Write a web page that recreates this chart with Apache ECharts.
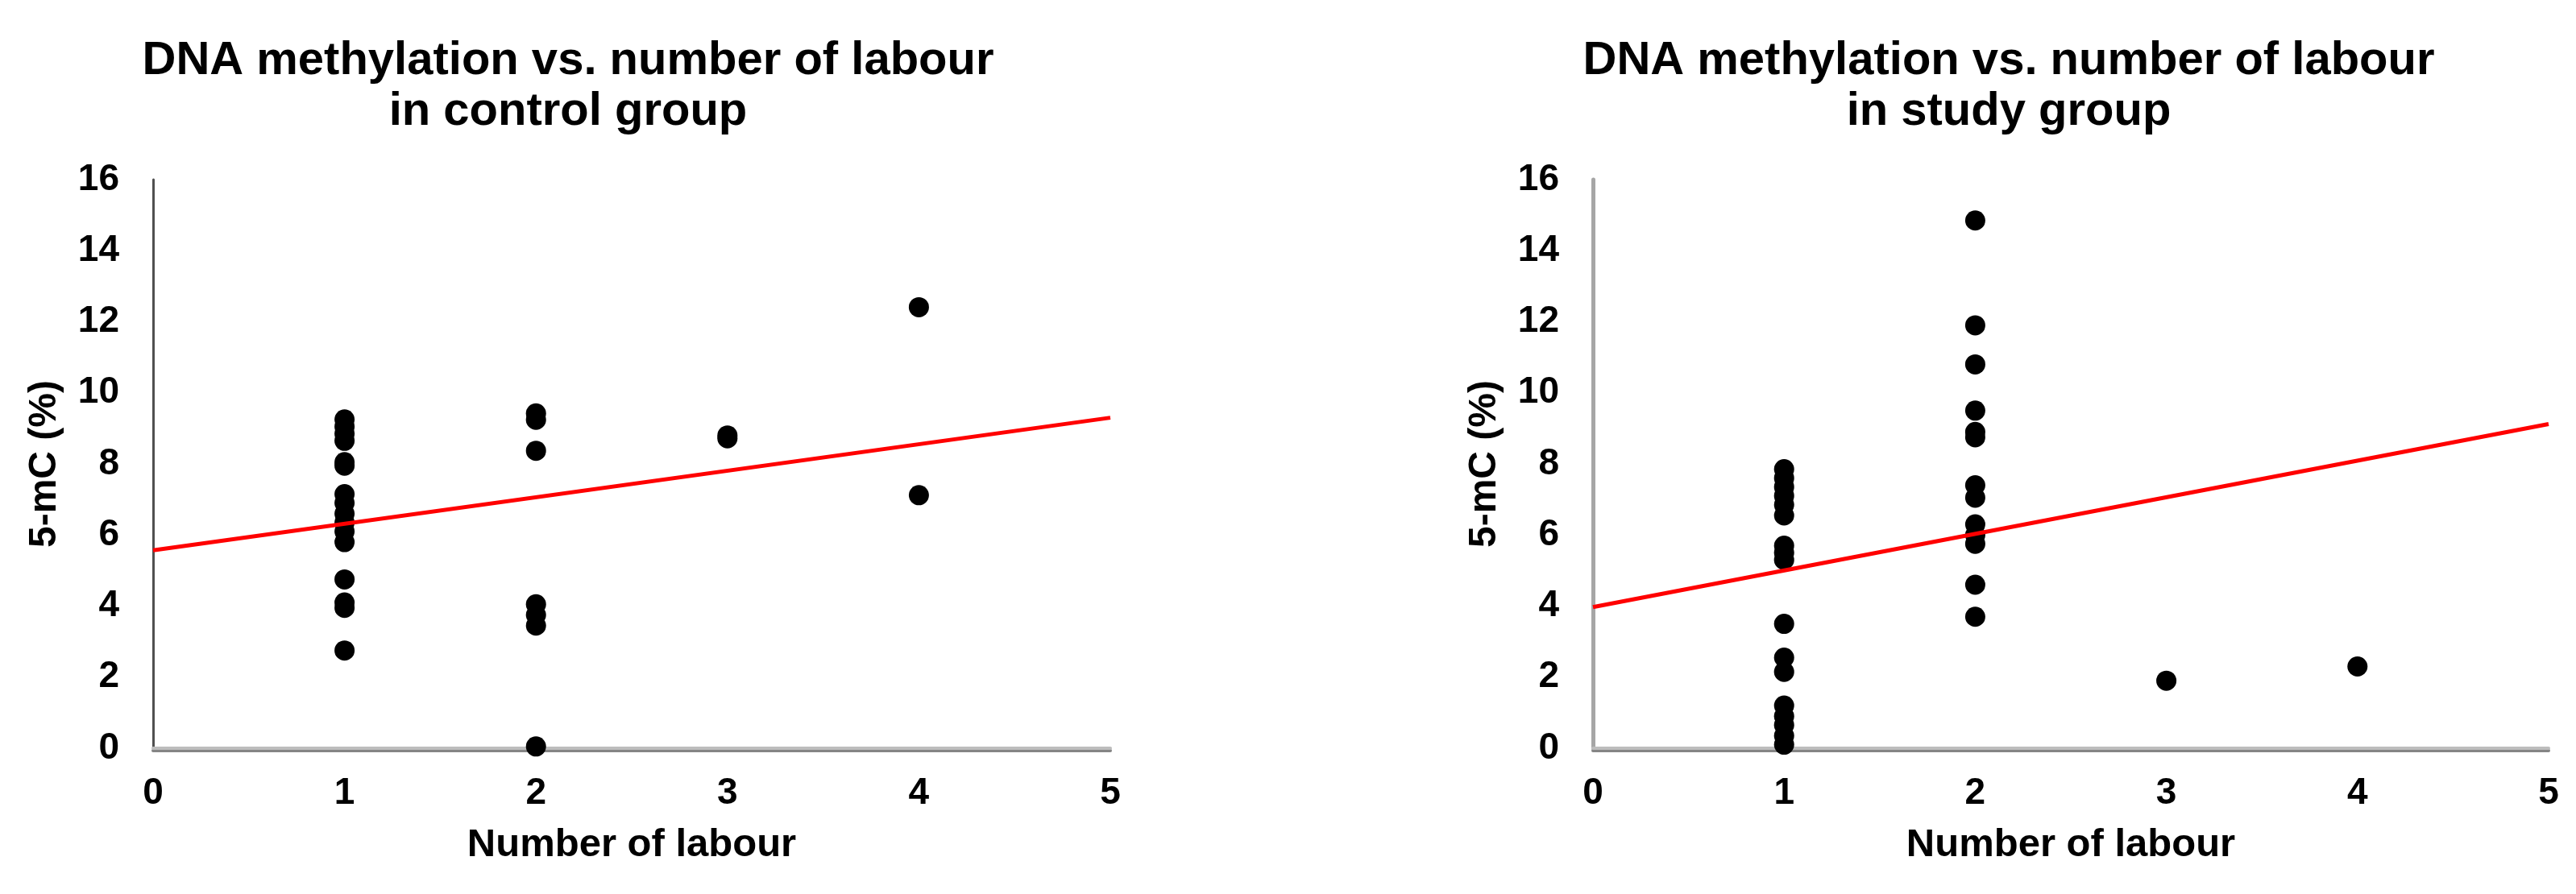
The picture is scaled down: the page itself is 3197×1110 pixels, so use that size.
<!DOCTYPE html>
<html>
<head>
<meta charset="utf-8">
<script src="https://cdn.jsdelivr.net/npm/echarts@6/dist/echarts.min.js"></script>
<style>
html,body{margin:0;padding:0;background:#fff;}
#chart{width:3197px;height:1110px;}
</style>
</head>
<body>
<div id="chart"></div>
<script>
// ---- Data ----
const titles = ['DNA methylation vs. number of labour\nin control group', 'DNA methylation vs. number of labour\nin study group'];
const xAxisName = 'Number of labour';
const yAxisName = '5-mC (%)';
const xTickLabels = [0, 1, 2, 3, 4, 5];
const yTickLabels = [0, 2, 4, 6, 8, 10, 12, 14, 16];

// control group
const controlLabour = [1,1,1,1,1,1,1,1,1,1,1,1,1,1,1,1, 2,2,2,2,2,2,2, 3,3, 4,4];
const controlMethylation = [9.25,9.05,8.85,8.65,8.05,7.95,7.15,6.9,6.6,6.35,6.1,5.8,4.75,4.1,3.95,2.75,
                            9.42,9.24,8.37,4.05,3.75,3.45,0.05,
                            8.8,8.72,
                            12.41,7.12];
const controlTrendX = [0, 5];
const controlTrendY = [5.57, 9.3];

// study group
const studyLabour = [1,1,1,1,1,1,1,1,1,1,1,1,1,1,1,1,1, 2,2,2,2,2,2,2,2,2,2,2,2,2, 3, 4];
const studyMethylation = [7.85,7.6,7.35,7.1,6.85,6.55,5.7,5.5,5.3,3.5,2.55,2.15,1.2,0.9,0.65,0.35,0.1,
                          14.85,11.9,10.8,9.5,8.9,8.75,7.4,7.05,6.3,6.0,5.75,4.6,3.7,
                          1.9,
                          2.3];
const studyTrendX = [0, 5];
const studyTrendY = [3.97, 9.12];

// ---- Build ----
const FONT = "'Liberation Sans', Arial, sans-serif";
function pairs(xs, ys) { return xs.map((x, i) => [x, ys[i]]); }

const grids = [
  {left: 190, top: 223, width: 1188, height: 706},
  {left: 1977, top: 223, width: 1186, height: 706}
];
const titleCenters = [705, 2493];
const yAxisColors = ['#505050', '#a6a6a6'];
const yAxisWidths = [3, 5];

function xAxisFor(i) {
  return {
    gridIndex: i, type: 'value',
    min: xTickLabels[0], max: xTickLabels[xTickLabels.length - 1], interval: xTickLabels[1] - xTickLabels[0],
    name: xAxisName, nameLocation: 'middle', nameGap: 96,
    nameTextStyle: {fontFamily: FONT, fontWeight: 'bold', fontSize: 49, color: '#000'},
    axisLine: {show: true, onZero: false, lineStyle: {color: '#bdbdbd', width: 4, shadowColor: '#858585', shadowOffsetY: 3, shadowBlur: 0}},
    axisTick: {show: false},
    splitLine: {show: false},
    axisLabel: {margin: 33, fontFamily: FONT, fontWeight: 'bold', fontSize: 46, color: '#000'}
  };
}
function yAxisFor(i) {
  return {
    gridIndex: i, type: 'value',
    min: yTickLabels[0], max: yTickLabels[yTickLabels.length - 1], interval: yTickLabels[1] - yTickLabels[0],
    name: yAxisName, nameLocation: 'middle', nameGap: 110,
    nameTextStyle: {fontFamily: FONT, fontWeight: 'bold', fontSize: 48, color: '#000'},
    axisLine: {show: true, onZero: false, lineStyle: {color: yAxisColors[i], width: yAxisWidths[i]}},
    axisTick: {show: false},
    splitLine: {show: false},
    axisLabel: {margin: 42, fontFamily: FONT, fontWeight: 'bold', fontSize: 46, color: '#000'}
  };
}

const option = {
  animation: false,
  backgroundColor: '#ffffff',
  title: titles.map((t, i) => ({
    text: t, left: titleCenters[i], top: 44, padding: 0, textAlign: 'center',
    textStyle: {fontFamily: FONT, fontWeight: 'bold', fontSize: 58, lineHeight: 63, color: '#000'}
  })),
  grid: grids,
  xAxis: [xAxisFor(0), xAxisFor(1)],
  yAxis: [yAxisFor(0), yAxisFor(1)],
  series: [
    {type: 'scatter', xAxisIndex: 0, yAxisIndex: 0, data: pairs(controlLabour, controlMethylation),
     symbol: 'circle', symbolSize: 25, itemStyle: {color: '#000', opacity: 1}, z: 2},
    {type: 'line', xAxisIndex: 0, yAxisIndex: 0, data: pairs(controlTrendX, controlTrendY),
     showSymbol: false, symbol: 'none', lineStyle: {color: '#ff0000', width: 5}, z: 3},
    {type: 'scatter', xAxisIndex: 1, yAxisIndex: 1, data: pairs(studyLabour, studyMethylation),
     symbol: 'circle', symbolSize: 25, itemStyle: {color: '#000', opacity: 1}, z: 2},
    {type: 'line', xAxisIndex: 1, yAxisIndex: 1, data: pairs(studyTrendX, studyTrendY),
     showSymbol: false, symbol: 'none', lineStyle: {color: '#ff0000', width: 5}, z: 3}
  ]
};

const chart = echarts.init(document.getElementById('chart'), null, {renderer: 'canvas'});
chart.setOption(option);
</script>
</body>
</html>
